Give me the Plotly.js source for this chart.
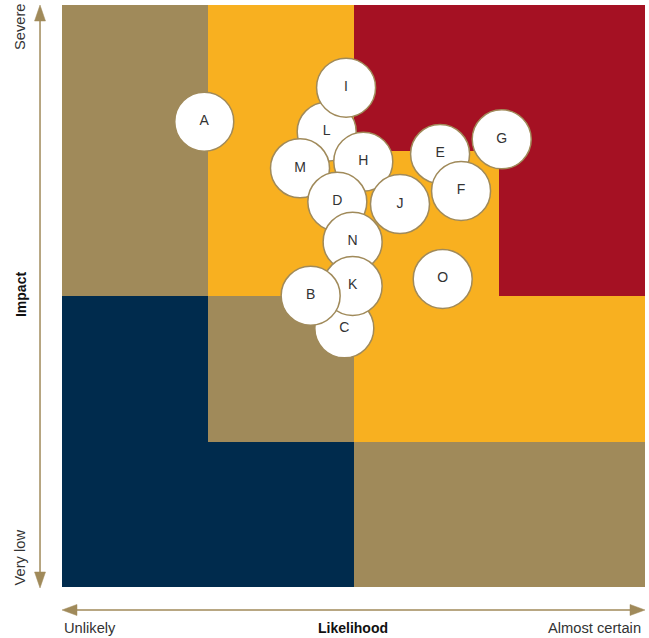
<!DOCTYPE html>
<html>
<head>
<meta charset="utf-8">
<script src="https://cdn.plot.ly/plotly-3.0.1.min.js"></script>
<style>html,body{margin:0;padding:0;background:#fff;}#chart{width:649px;height:638px;}</style>
</head>
<body>
<div id="chart"></div>
<script>
// Grid cells (bottom row first): 0 = low (navy), 1 = tan, 2 = orange, 3 = high (red)
const likelihoodBins = [0.5, 1.5, 2.5, 3.5];
const impactBins = [0.5, 1.5, 2.5, 3.5];
const riskLevel = [
  [0, 0, 1, 1],
  [0, 1, 2, 2],
  [1, 2, 2, 3],
  [1, 2, 3, 3]
];
const levelColors = ['#002b4d', '#a08a5a', '#f8b020', '#a51123'];

// Risks (drawing order, later on top)
const riskLabels = ['L', 'I', 'M', 'H', 'D', 'J', 'N', 'C', 'K', 'B', 'E', 'F', 'G', 'O', 'A'];
const riskLikelihood = [1.816, 1.949, 1.633, 2.067, 1.889, 2.319, 1.994, 1.937, 1.994, 1.706, 2.594, 2.738, 3.017, 2.612, 0.976];
const riskImpact =     [3.129, 3.432, 2.878, 2.923, 2.648, 2.632, 2.373, 1.778, 2.069, 2.002, 2.976, 2.722, 3.077, 2.117, 3.198];

const tan = '#a08a5a';
const textCol = '#333333';
const fontFam = '"Liberation Sans", Arial, Helvetica, sans-serif';

const cs = [
  [0, levelColors[0]], [0.1667, levelColors[0]],
  [0.1667, levelColors[1]], [0.5, levelColors[1]],
  [0.5, levelColors[2]], [0.8333, levelColors[2]],
  [0.8333, levelColors[3]], [1, levelColors[3]]
];

const traces = [
  {
    type: 'heatmap',
    x: likelihoodBins,
    y: impactBins,
    z: riskLevel,
    zmin: 0, zmax: 3,
    colorscale: cs,
    showscale: false,
    hoverinfo: 'skip'
  },
  {
    type: 'scatter',
    mode: 'markers+text',
    x: riskLikelihood,
    y: riskImpact,
    text: riskLabels,
    textposition: 'middle center',
    textfont: {family: fontFam, size: 14, color: textCol},
    marker: {size: 59, color: '#ffffff', line: {color: tan, width: 1.5}, opacity: 1},
    cliponaxis: false,
    hoverinfo: 'skip'
  }
];

// arrows in paper coordinates
const ax = -0.0377;   // vertical arrow x
const hy = -0.0395;   // horizontal arrow y
const shapes = [
  {type: 'line', xref: 'paper', yref: 'paper', x0: ax, x1: ax, y0: 0.02, y1: 0.98, line: {color: tan, width: 1.5}},
  {type: 'path', xref: 'paper', yref: 'paper', path: `M ${ax-0.0094} 0.9725 L ${ax+0.0094} 0.9725 L ${ax} 1.0 Z`, fillcolor: tan, line: {color: tan, width: 0.5}},
  {type: 'path', xref: 'paper', yref: 'paper', path: `M ${ax-0.0094} 0.0258 L ${ax+0.0094} 0.0258 L ${ax} -0.0017 Z`, fillcolor: tan, line: {color: tan, width: 0.5}},
  {type: 'line', xref: 'paper', yref: 'paper', x0: 0.02, x1: 0.98, y0: hy, y1: hy, line: {color: tan, width: 1.5}},
  {type: 'path', xref: 'paper', yref: 'paper', path: `M 0.0257 ${hy-0.0095} L 0.0257 ${hy+0.0095} L 0 ${hy} Z`, fillcolor: tan, line: {color: tan, width: 0.5}},
  {type: 'path', xref: 'paper', yref: 'paper', path: `M 0.9743 ${hy-0.0095} L 0.9743 ${hy+0.0095} L 1.0 ${hy} Z`, fillcolor: tan, line: {color: tan, width: 0.5}}
];

const annFont = {family: fontFam, size: 14.7, color: textCol};
const boldFont = {family: fontFam, size: 14, color: '#111'};
const annotations = [
  {text: 'Severe', xref: 'paper', yref: 'paper', x: -0.072, y: 0.9622, showarrow: false, textangle: -90, font: annFont, xanchor: 'center', yanchor: 'middle'},
  {text: 'Very low', xref: 'paper', yref: 'paper', x: -0.072, y: 0.0507, showarrow: false, textangle: -90, font: annFont, xanchor: 'center', yanchor: 'middle'},
  {text: '<b>Impact</b>', xref: 'paper', yref: 'paper', x: -0.0703, y: 0.5017, showarrow: false, textangle: -90, font: boldFont, xanchor: 'center', yanchor: 'middle'},
  {text: 'Unlikely', xref: 'paper', yref: 'paper', x: 0, y: -0.0704, showarrow: false, font: annFont, xanchor: 'left', yanchor: 'middle'},
  {text: '<b>Likelihood</b>', xref: 'paper', yref: 'paper', x: 0.4983, y: -0.0704, showarrow: false, font: boldFont, xanchor: 'center', yanchor: 'middle'},
  {text: 'Almost certain', xref: 'paper', yref: 'paper', x: 0.9966, y: -0.0704, showarrow: false, font: annFont, xanchor: 'right', yanchor: 'middle'}
];

const axisBase = {range: [0, 4], showgrid: false, zeroline: false, showticklabels: false, ticks: '', showline: false, fixedrange: true};

const layout = {
  width: 649, height: 638,
  margin: {l: 62, r: 4, t: 5, b: 51, pad: 0},
  paper_bgcolor: '#ffffff',
  plot_bgcolor: '#ffffff',
  showlegend: false,
  hovermode: false,
  xaxis: Object.assign({}, axisBase),
  yaxis: Object.assign({}, axisBase),
  shapes: shapes,
  annotations: annotations
};

Plotly.newPlot('chart', traces, layout, {displayModeBar: false, staticPlot: true});
</script>
</body>
</html>
